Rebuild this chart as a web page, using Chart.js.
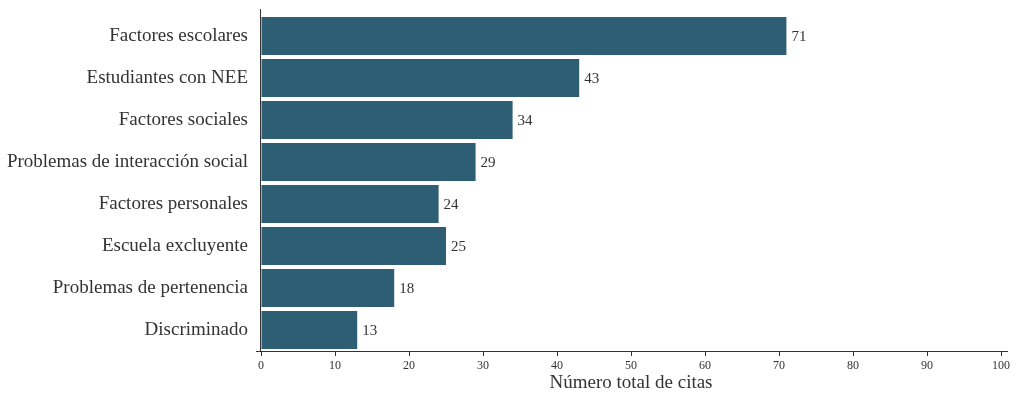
<!DOCTYPE html>
<html>
<head>
<meta charset="utf-8">
<script src="https://cdn.jsdelivr.net/npm/chart.js@4.4.0/dist/chart.umd.min.js"></script>
<style>
  body { margin: 0; background: #fff; }
  #wrap { width: 1017px; height: 394px; }
</style>
</head>
<body>
<div id="wrap"><canvas id="chart"></canvas></div>
<script>
var categories = [
    "Factores escolares",
    "Estudiantes con NEE",
    "Factores sociales",
    "Problemas de interacción social",
    "Factores personales",
    "Escuela excluyente",
    "Problemas de pertenencia",
    "Discriminado"
];
var citas = [71, 43, 34, 29, 24, 25, 18, 13];
var xTicks = [0, 10, 20, 30, 40, 50, 60, 70, 80, 90, 100];

var FONT = "'Liberation Serif', 'DejaVu Serif', serif";
var INK = "#333333";

//Axis lines a little longer than the plot area, like the original
var axisLines = {
    id: "axisLines",
    afterDraw: function(chart)
    {
        var ctx = chart.ctx;
        var a = chart.chartArea;
        ctx.save();
        ctx.strokeStyle = INK;
        ctx.lineWidth = 1;
        ctx.beginPath();
        ctx.moveTo(a.left - 5, a.bottom + 0.5);
        ctx.lineTo(a.right + 7, a.bottom + 0.5);
        ctx.moveTo(a.left - 0.5, a.top - 6);
        ctx.lineTo(a.left - 0.5, a.bottom);
        ctx.stroke();
        ctx.restore();
    }
};

//Value next to each bar
var barValues = {
    id: "barValues",
    afterDatasetsDraw: function(chart)
    {
        var ctx = chart.ctx;
        var meta = chart.getDatasetMeta(0);
        ctx.save();
        ctx.fillStyle = INK;
        ctx.font = "15px " + FONT;
        ctx.textAlign = "left";
        ctx.textBaseline = "middle";
        meta.data.forEach(function(bar, i) {
            ctx.fillText(String(citas[i]), bar.x + 5, bar.y + 1);
        });
        ctx.restore();
    }
};

new Chart(document.getElementById("chart"), {
    type: "bar",
    data: {
        labels: categories,
        datasets: [{
            data: citas,
            backgroundColor: "#2d5e73",
            borderWidth: 0,
            barPercentage: 0.9,
            categoryPercentage: 1.0
        }]
    },
    options: {
        indexAxis: "y",
        responsive: true,
        maintainAspectRatio: false,
        animation: false,
        layout: { padding: { top: 15, right: 16, bottom: 0, left: 0 } },
        plugins: {
            legend: { display: false },
            tooltip: { enabled: false }
        },
        scales: {
            x: {
                min: 0,
                max: 100,
                afterBuildTicks: function(scale) {
                    scale.ticks = xTicks.map(function(v) { return { value: v }; });
                },
                afterFit: function(scale) { scale.height = 43; },
                border: { display: false },
                grid: { drawOnChartArea: false, drawTicks: true, tickLength: 5, color: INK, tickColor: INK },
                ticks: { color: INK, font: { family: FONT, size: 12 }, padding: 3, maxRotation: 0 },
                title: {
                    display: true,
                    text: "Número total de citas",
                    color: INK,
                    font: { family: FONT, size: 19 },
                    padding: { top: 0, bottom: 0 }
                }
            },
            y: {
                afterFit: function(scale) {
                    scale.width = 261;
                    scale.paddingTop = 0;
                    scale.paddingBottom = 0;
                },
                border: { display: false },
                grid: { display: false, drawTicks: false },
                ticks: { color: INK, font: { family: FONT, size: 19 }, padding: 13 }
            }
        }
    },
    plugins: [axisLines, barValues]
});
</script>
</body>
</html>
